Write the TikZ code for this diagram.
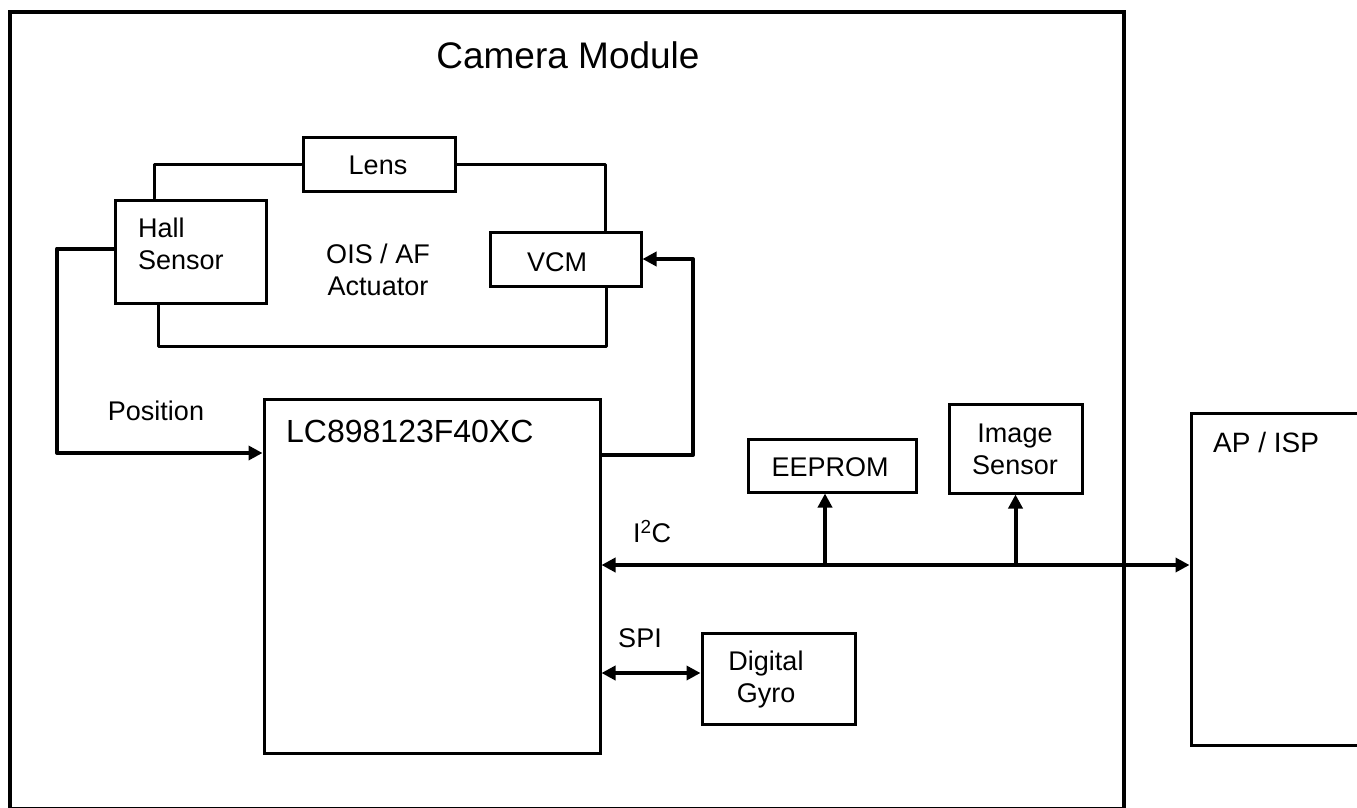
\documentclass[tikz,border=0pt]{standalone}
\usepackage{fontspec}
\setmainfont{Liberation Sans}
\usetikzlibrary{arrows.meta,calc}
\tikzset{
  box/.style={draw, line width=3pt, inner sep=0pt, rectangle},
  wire/.style={line width=3pt, line cap=round, line join=round},
  arr/.style={line width=4pt, line join=round, -{Triangle[length=14pt,width=14pt]}},
  arrtwo/.style={line width=4pt, {Triangle[length=14pt,width=14pt]}-{Triangle[length=14pt,width=14pt]}},
  txt/.style={inner sep=0pt, font=\fontsize{27}{32}\selectfont},
}
\begin{document}
\begin{tikzpicture}[x=1pt,y=-1pt]
\useasboundingbox (0,0) rectangle (1357,808);
\clip (0,0) rectangle (1357,808);
\fill[white] (0,0) rectangle (1357,808);
% outer camera module frame
\draw[line width=4.5pt] (10,12) rectangle (1124,809);
\node[inner sep=0pt, font=\fontsize{37}{44}\selectfont] (title) at (568,55) {Camera Module};
% boxes
\node[box, minimum width=151pt, minimum height=103pt] (hall) at (190.5,251.5) {};
\node[box, minimum width=152pt, minimum height=54pt] (lens) at (379,164) {};
\node[box, minimum width=151pt, minimum height=54pt] (vcm) at (565.5,259) {};
\node[box, minimum width=336pt, minimum height=354pt] (lc) at (432,576) {};
\node[box, minimum width=168pt, minimum height=53pt] (eeprom) at (832,465.5) {};
\node[box, minimum width=133pt, minimum height=89pt] (imgs) at (1015.5,448.5) {};
\node[box, minimum width=153pt, minimum height=91pt] (gyro) at (778.5,678.5) {};
\node[box, minimum width=230pt, minimum height=332pt] (ap) at (1306,579) {};
% texts
\node[txt, anchor=west, align=left] (halltxt) at (138,244) {Hall\\Sensor};
\node[txt] (lenstxt) at (378,165) {Lens};
\node[txt] (vcmtxt) at (557,262) {VCM};
\node[txt, align=center] (ois) at (378,270) {OIS / AF\\Actuator};
\node[txt] (pos) at (156,411) {Position};
\node[inner sep=0pt, anchor=west, font=\fontsize{32}{38}\selectfont] (lctxt) at (286,431) {LC898123F40XC};
\node[txt] (eepromtxt) at (830,467) {EEPROM};
\node[txt, align=center] (imgstxt) at (1015,449) {Image\\Sensor};
\node[txt, align=center] (gyrotxt) at (766,680) {Digital\\Gyro};
\node[inner sep=0pt, anchor=west, font=\fontsize{28}{33}\selectfont] (aptxt) at (1213,442) {AP / ISP};
\node[txt] (i2c) at (652,532) {I\textsuperscript{2}C};
\node[txt] (spi) at (640,638) {SPI};
% actuator loop wires
\draw[wire] ([xshift=-36.5pt]hall.north) |- (lens.west);
\draw[wire] (lens.east) -| ([xshift=39.5pt]vcm.north);
\draw[wire] ([xshift=-32.5pt]hall.south) -- ++(0,42) -| ([xshift=40.5pt]vcm.south);
% position feedback
\coordinate (pcorner) at (57,453);
\draw[arr] ([yshift=3pt]hall.west) -| (pcorner) -- (pcorner -| lc.west);
% drive to VCM
\coordinate (vcorner) at (693,455);
\draw[arr] (vcorner -| lc.east) -- (vcorner) |- (vcm.east);
% I2C bus
\coordinate (busy) at (0,565);
\draw[arrtwo] (busy -| lc.east) -- (busy -| ap.west);
\draw[arr] ([xshift=-7pt]eeprom.south |- busy) -- ([xshift=-7pt]eeprom.south);
\draw[arr] (imgs.south |- busy) -- (imgs.south);
% SPI
\coordinate (spiy) at (0,673);
\draw[arrtwo] (spiy -| lc.east) -- (spiy -| gyro.west);
\end{tikzpicture}
\end{document}
